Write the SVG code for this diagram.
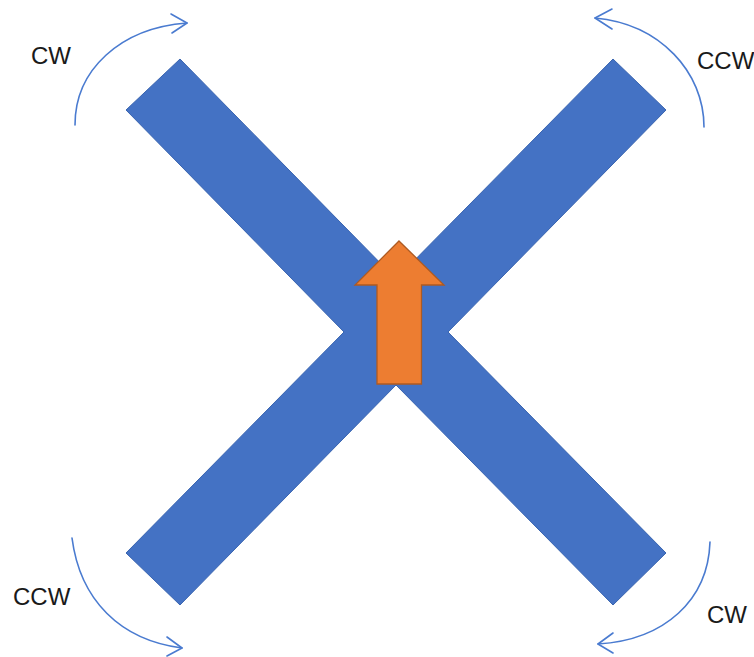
<svg xmlns="http://www.w3.org/2000/svg" width="754" height="657" viewBox="0 0 754 657">
<style>
.bar{fill:#4472C4;stroke:#3A65B0;stroke-width:1}
.arr{fill:#ED7D31;stroke:#AE5A21;stroke-width:1.3}
.rot{fill:none;stroke:#4A7BD0;stroke-width:1.6;stroke-linecap:round;stroke-linejoin:round}
.lbl{font-family:"Liberation Sans",Arial,sans-serif;font-size:24px;fill:#1a1a1a}
</style>
<rect width="754" height="657" fill="#ffffff"/>
<g id="cross">
<polygon class="bar" points="180,59 396,279 613,59 666,110 448,332 666,553 613,605 396,385 180,605 126,553 344,332 126,110"/>
</g>
<g id="up-arrow">
<polygon class="arr" points="399,241 444,285 421.5,285 421.5,384 377,384 377,285 355,285"/>
</g>
<g id="connectors">
<path class="rot" d="M75,125 C75,70 120,28 187,23"/>
<polyline class="rot" points="171,14 187,23 172,33"/>
<path class="rot" d="M704,127 C704,72 660,24 595,18"/>
<polyline class="rot" points="612,9 595,18 612,29"/>
<path class="rot" d="M72,538 C80,600 120,640 182,648"/>
<polyline class="rot" points="167,637 182,648 167,656"/>
<path class="rot" d="M710,542 C708,600 665,640 598,644"/>
<polyline class="rot" points="613,633 598,644 613,653"/>
</g>
<g id="label-tl"><text class="lbl" x="31" y="64">CW</text></g>
<g id="label-tr"><text class="lbl" x="697" y="69">CCW</text></g>
<g id="label-bl"><text class="lbl" x="13" y="605">CCW</text></g>
<g id="label-br"><text class="lbl" x="707" y="623">CW</text></g>
</svg>
